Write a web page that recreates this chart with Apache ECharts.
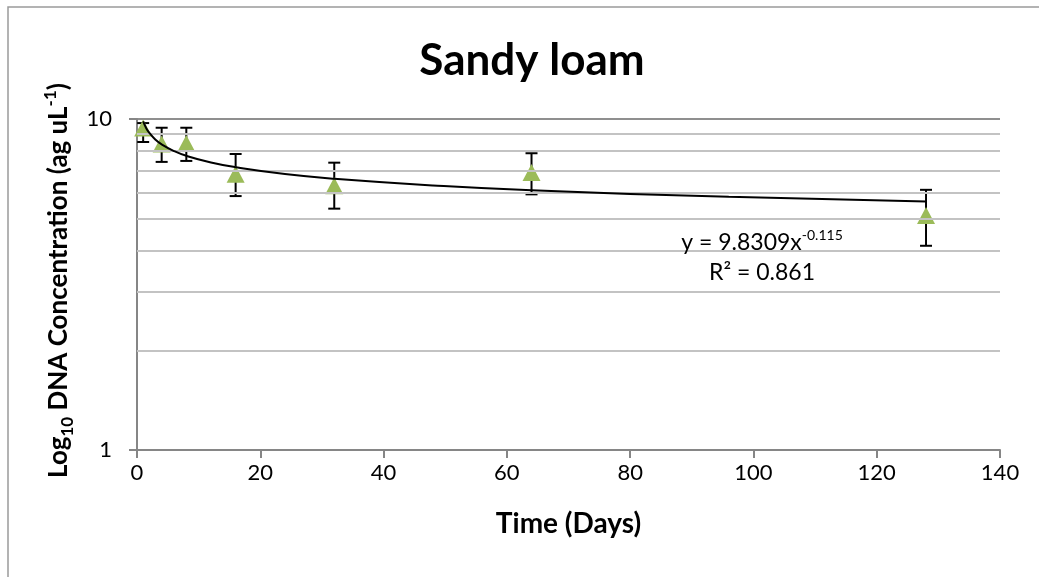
<!DOCTYPE html>
<html>
<head>
<meta charset="utf-8">
<script src="https://cdn.jsdelivr.net/npm/echarts@6/dist/echarts.min.js"></script>
<style>
html,body{margin:0;padding:0;background:#fff;}
#chart{width:1039px;height:577px;}
</style>
</head>
<body>
<div id="chart"></div>
<script>
// ---- data ----
var days = [1, 4, 8, 16, 32, 64, 128];
var conc = [9.39, 8.40, 8.43, 6.81, 6.29, 6.89, 5.11];
var errUpper = [9.72, 9.41, 9.41, 7.84, 7.38, 7.88, 6.11];
var errLower = [8.52, 7.42, 7.47, 5.85, 5.36, 5.92, 4.14];

// power trendline as drawn in the picture
var trendDays = [1, 1.5, 2, 3, 4, 6, 8, 12, 16, 24, 32, 48, 64, 96, 128];
var trendConc = [9.83, 9.38, 9.08, 8.66, 8.38, 8.00, 7.74, 7.39, 7.15, 6.82, 6.60, 6.30, 6.09, 5.82, 5.63];

var minorGridValues = [2, 3, 4, 5, 6, 7, 8, 9];
var xTicks = { min: 0, max: 140, interval: 20 };
var yRange = { min: 1, max: 10 };

var titleText = 'Sandy loam';
var xTitle = 'Time (Days)';
var equationLine1 = 'y = 9.8309x';
var equationExp = '-0.115';
var equationLine2 = 'R² = 0.861';

var FONT = 'Lato';

var chart = echarts.init(document.getElementById('chart'), null, { renderer: 'canvas' });

var scatterData = days.map(function (d, i) { return [d, conc[i]]; });
var errData = days.map(function (d, i) { return [d, errLower[i], errUpper[i]]; });
var trendData = trendDays.map(function (d, i) { return [d, trendConc[i]]; });

var option = {
  animation: false,
  backgroundColor: '#ffffff',
  title: {
    text: titleText,
    left: 527,
    top: 34,
    textAlign: 'center',
    textStyle: { fontFamily: FONT, fontWeight: 'bold', fontSize: 44, color: '#000' }
  },
  grid: { left: 137, right: 39, top: 119, bottom: 127 },
  xAxis: {
    type: 'value',
    min: xTicks.min, max: xTicks.max, interval: xTicks.interval,
    name: xTitle,
    nameLocation: 'middle',
    nameGap: 60,
    nameTextStyle: { fontFamily: FONT, fontWeight: 'bold', fontSize: 28, color: '#000' },
    axisLine: { onZero: false, lineStyle: { color: '#868686', width: 2 } },
    axisTick: { show: true, length: 8, lineStyle: { color: '#868686', width: 2 } },
    axisLabel: { fontFamily: FONT, fontSize: 22, color: '#000', margin: 12 },
    splitLine: { show: false }
  },
  yAxis: {
    type: 'log',
    logBase: 10,
    min: yRange.min, max: yRange.max,
    name: 'Log{sub|10} DNA Concentration (ag uL{sup|-1})',
    nameLocation: 'middle',
    nameRotate: 90,
    nameGap: 50,
    nameTextStyle: {
      fontFamily: FONT, fontWeight: 'bold', fontSize: 26, color: '#000', lineHeight: 34,
      padding: [0, 0, 0, 8],
      rich: {
        sub: { fontFamily: FONT, fontWeight: 'bold', fontSize: 17, color: '#000', lineHeight: 17, verticalAlign: 'bottom' },
        sup: { fontFamily: FONT, fontWeight: 'bold', fontSize: 17, color: '#000', lineHeight: 17, verticalAlign: 'top' }
      }
    },
    axisLine: { show: true, onZero: false, lineStyle: { color: '#868686', width: 2 } },
    axisTick: { show: true, length: 8, lineStyle: { color: '#868686', width: 2 } },
    axisLabel: { fontFamily: FONT, fontSize: 22, color: '#000', margin: 25 },
    splitLine: { show: true, lineStyle: { color: '#8f8f8f', width: 2 } }
  },
  graphic: [
    {
      type: 'rect',
      shape: { x: 8, y: 7, width: 1060, height: 620 },
      style: { fill: 'none', stroke: '#9a9a9a', lineWidth: 1.5 },
      silent: true, z: -10
    },
    {
      type: 'text',
      x: 762, y: 228,
      style: {
        text: '{a|' + equationLine1 + '}{sup|' + equationExp + '}\n{a|' + equationLine2 + '}',
        align: 'center', textAlign: 'center', verticalAlign: 'top',
        rich: {
          a: { fontFamily: FONT, fontSize: 23, fill: '#000', color: '#000', lineHeight: 30 },
          sup: { fontFamily: FONT, fontSize: 14, fill: '#000', color: '#000', lineHeight: 14, verticalAlign: 'top' }
        }
      },
      z: 100
    }
  ],
  series: [
    {
      name: 'minorGrid',
      type: 'line',
      data: [],
      silent: true,
      z: 1,
      markLine: {
        silent: true,
        symbol: ['none', 'none'],
        label: { show: false },
        animation: false,
        lineStyle: { color: '#c3c3c3', width: 2, type: 'solid' },
        emphasis: { disabled: true },
        data: minorGridValues.map(function (v) { return { yAxis: v }; })
      }
    },
    {
      name: 'errorBars',
      type: 'custom',
      z: 3,
      data: errData,
      encode: { x: 0, y: [1, 2] },
      renderItem: function (params, api) {
        var x = api.value(0);
        var lo = api.coord([x, api.value(1)]);
        var hi = api.coord([x, api.value(2)]);
        var cap = 6;
        var st = { stroke: '#000', lineWidth: 2 };
        return {
          type: 'group',
          children: [
            { type: 'line', shape: { x1: lo[0], y1: lo[1], x2: hi[0], y2: hi[1] }, style: st },
            { type: 'line', shape: { x1: hi[0] - cap, y1: hi[1], x2: hi[0] + cap, y2: hi[1] }, style: st },
            { type: 'line', shape: { x1: lo[0] - cap, y1: lo[1], x2: lo[0] + cap, y2: lo[1] }, style: st }
          ]
        };
      }
    },
    {
      name: 'Sandy loam',
      type: 'scatter',
      z: 4,
      data: scatterData,
      symbol: 'triangle',
      symbolSize: [18, 17],
      itemStyle: { color: '#9BBB59', opacity: 1 }
    },
    {
      name: 'Power trend',
      type: 'line',
      z: 5,
      data: trendData,
      smooth: true,
      showSymbol: false,
      symbol: 'none',
      lineStyle: { color: '#000', width: 2 }
    }
  ]
};
chart.setOption(option);
</script>
</body>
</html>
